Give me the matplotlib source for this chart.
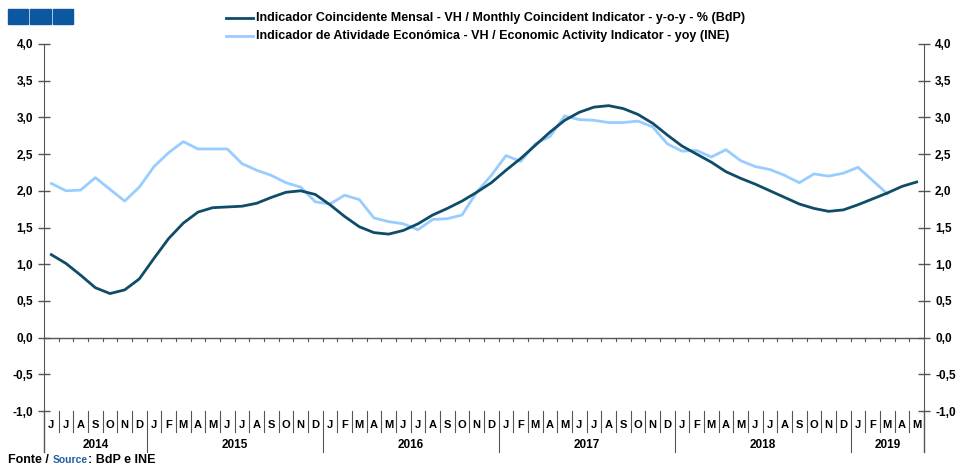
import matplotlib.pyplot as plt
from matplotlib.lines import Line2D
from matplotlib.patches import Rectangle
import matplotlib.transforms as mtransforms

plt.rcParams['font.family'] = ['Liberation Sans', 'DejaVu Sans']
plt.rcParams['font.weight'] = 'bold'

# monthly data, Jun 2014 .. May 2019
months = ['J', 'J', 'A', 'S', 'O', 'N', 'D'] + ['J', 'F', 'M', 'A', 'M', 'J', 'J', 'A', 'S', 'O', 'N', 'D'] * 4 + ['J', 'F', 'M', 'A', 'M']
years = ['2014', '2015', '2016', '2017', '2018', '2019']
year_len = [7, 12, 12, 12, 12, 5]

bdp = [1.13, 1.01, 0.85, 0.68, 0.60, 0.65, 0.80, 1.08, 1.35, 1.56,
       1.71, 1.77, 1.78, 1.79, 1.83, 1.91, 1.98, 2.00, 1.95, 1.81,
       1.65, 1.51, 1.43, 1.41, 1.46, 1.55, 1.67, 1.76, 1.86, 1.98,
       2.11, 2.28, 2.44, 2.62, 2.80, 2.96, 3.07, 3.14, 3.16, 3.12,
       3.04, 2.92, 2.76, 2.61, 2.50, 2.39, 2.26, 2.17, 2.09, 2.00,
       1.91, 1.82, 1.76, 1.72, 1.74, 1.81, 1.89, 1.97, 2.06, 2.12]

ine = [2.10, 2.00, 2.01, 2.18, 2.02, 1.86, 2.05, 2.33, 2.52, 2.67,
       2.57, 2.57, 2.57, 2.37, 2.28, 2.21, 2.11, 2.05, 1.85, 1.82,
       1.94, 1.88, 1.63, 1.58, 1.55, 1.47, 1.61, 1.62, 1.67, 1.98,
       2.21, 2.48, 2.40, 2.64, 2.74, 3.02, 2.97, 2.96, 2.93, 2.93,
       2.95, 2.87, 2.64, 2.54, 2.55, 2.46, 2.56, 2.41, 2.33, 2.29,
       2.21, 2.11, 2.23, 2.20, 2.24, 2.32, 2.14, 1.96]

label_bdp = 'Indicador Coincidente Mensal - VH / Monthly Coincident Indicator - y-o-y - % (BdP)'
label_ine = 'Indicador de Atividade Económica - VH / Economic Activity Indicator - yoy (INE)'

dark = '#0f4c68'
light = '#99ccff'
grey = '#555555'

W, H = 961, 468
fig = plt.figure(figsize=(W / 100, H / 100), dpi=100)
ax = fig.add_axes([44 / W, 1 - 411 / H, 880 / W, 367 / H])

n = len(months)
ax.plot([i + 0.5 for i in range(len(bdp))], bdp, color=dark, lw=2.0, zorder=3)
ax.plot([i + 0.5 for i in range(len(ine))], ine, color=light, lw=2.0, zorder=2)

ax.set_xlim(0, n)
ax.set_ylim(-1, 4)
ax.set_xticks([])
yt = [-1 + 0.5 * k for k in range(11)]
ax.set_yticks(yt)
ax.set_yticklabels([f'{v:.1f}'.replace('.', ',') for v in yt])
ax.tick_params(axis='y', direction='inout', length=8, width=1, color=grey,
               labelsize=8.5, left=True, right=True, labelleft=True, labelright=True, pad=4)
for s in ['top', 'bottom']:
    ax.spines[s].set_visible(False)
for s in ['left', 'right']:
    ax.spines[s].set_color(grey)

# zero line with small month ticks
ax.axhline(0, color=grey, lw=1, zorder=1)
trans = mtransforms.blended_transform_factory(ax.transData, ax.transAxes)
z0 = 1 / 5  # zero in axes fraction
for i in range(1, n):
    ax.plot([i, i], [z0, z0 - 0.008], color=grey, lw=0.8, transform=trans, clip_on=False)

# extend left/right axis lines below the plot
for xv in [0, n]:
    ax.plot([xv, xv], [0, -0.112], color=grey, lw=1, transform=trans, clip_on=False)

# month labels and separators
for i, m in enumerate(months):
    ax.text(i + 0.5, -0.038, m, transform=trans, ha='center', va='center', fontsize=8)
start = 0
bounds = []
for y, ln in zip(years, year_len):
    ax.text(start + ln / 2, -0.093, y, transform=trans, ha='center', va='center', fontsize=8.5)
    start += ln
    bounds.append(start)
for i in range(1, n):
    low = -0.112 if i in bounds else -0.057
    ax.plot([i, i], [0, low], color=grey, lw=0.8, transform=trans, clip_on=False)

# legend
for yy, col, lab in [(18, dark, label_bdp), (36, light, label_ine)]:
    fig.add_artist(Line2D([226 / W, 253 / W], [1 - yy / H, 1 - yy / H], color=col, lw=2.0))
    fig.text(256 / W, 1 - yy / H, lab, fontsize=9, va='center', ha='left')

# logo squares
for x0 in [8, 30.5, 53]:
    fig.add_artist(Rectangle((x0 / W, 1 - 24 / H), 20 / W, 15 / H, color='#0b57a0',
                             transform=fig.transFigure))

# source
t1 = fig.text(8 / W, 1 - 460 / H, 'Fonte / ', fontsize=9, va='center', ha='left')
t2 = ax.annotate('Source', xy=(1, 0.5), xycoords=t1, va='center', ha='left',
                 fontsize=7.5, color='#1f5fa0')
ax.annotate(': BdP e INE', xy=(1, 0.5), xycoords=t2, va='center', ha='left', fontsize=9)

fig.savefig('out.png', dpi=100)
